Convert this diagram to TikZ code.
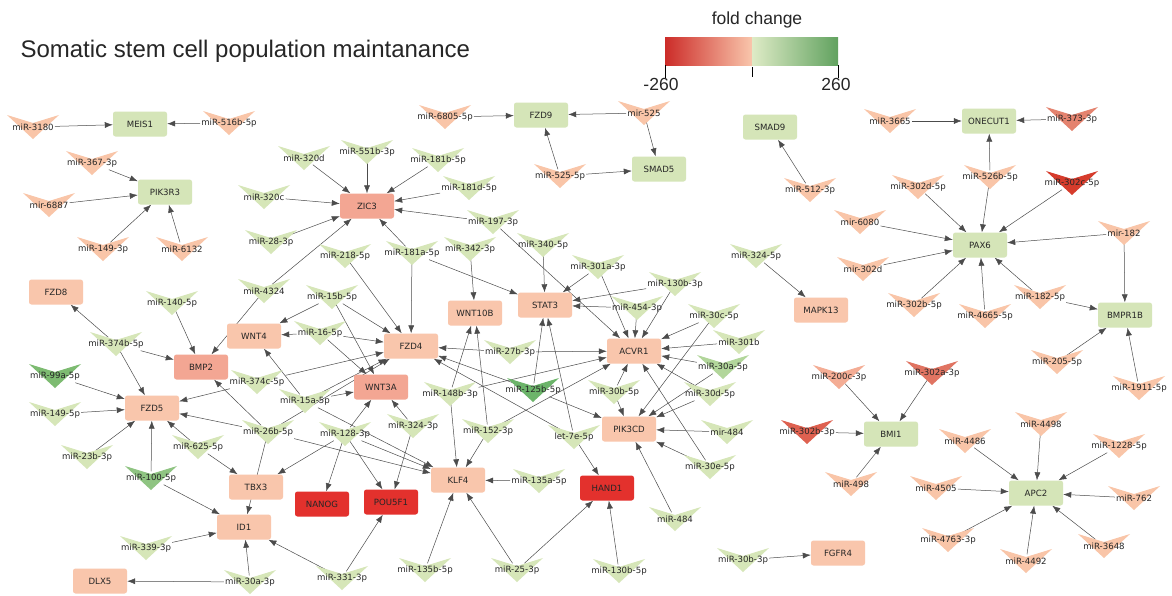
\documentclass[tikz,border=0pt]{standalone}
\usepackage{fontspec}
\setmainfont{DejaVu Sans}
\newfontfamily\libsans{Liberation Sans}
\usetikzlibrary{arrows.meta}
\pgfdeclarelayer{bg}
\pgfsetlayers{bg,main}
\definecolor{cGg}{HTML}{D5E5B8}
\definecolor{cGp}{HTML}{F9C6AC}
\definecolor{cGs}{HTML}{F3A693}
\definecolor{cGr}{HTML}{E3312D}
\definecolor{cS}{HTML}{F9C5A8}
\definecolor{cS2}{HTML}{F4AD95}
\definecolor{cG}{HTML}{D6E6B8}
\definecolor{cMG}{HTML}{B2D69B}
\definecolor{cDG}{HTML}{7DBB71}
\definecolor{cDGb}{HTML}{6CB46A}
\definecolor{cDGc}{HTML}{8FC482}
\definecolor{cR1}{HTML}{D63C2C}
\definecolor{cR2}{HTML}{E07462}
\definecolor{cR3}{HTML}{E4836F}
\definecolor{cR4}{HTML}{DE6150}
\tikzset{
  gene/.style={rounded corners=2.5pt, minimum width=54pt, minimum height=25pt, inner sep=1pt,
    font=\fontsize{8.6}{10}\selectfont, text=black!85},
  mirlab/.style={inner sep=1pt, minimum height=13pt, font=\fontsize{8.6}{10}\selectfont, text=black!85},
  edge/.style={draw=black!70, line width=0.5pt, -{Latex[length=8pt,width=6pt]}},
}
\newcommand\mirna[5]{%
  \fill[#5] ({#2-26},{#3-12}) -- ({#2},{#3-4}) -- ({#2+26},{#3-12}) -- ({#2},{#3+12}) -- cycle;
  \node[mirlab] (#1) at (#2,#3) {#4};}
\begin{document}
\begin{tikzpicture}[x=1pt,y=-1pt]
\useasboundingbox (0,0) rectangle (1172,595);
\begin{pgfonlayer}{bg}
\fill[white] (0,0) rectangle (1172,595);
\end{pgfonlayer}
% title and legend
\node[anchor=base west, font=\libsans\fontsize{24}{28}\selectfont, text=black!85] (title) at (17,57) {Somatic stem cell population maintanance};
\node[font=\libsans\fontsize{17.5}{20}\selectfont, text=black!85] (lgt) at (757,20) {fold change};
\shade[left color=cGr!90!black, right color=cGp] (665,37) rectangle (752,65);
\shade[left color=cG!80, right color=cDGb!90!black] (752,37) rectangle (838,65);
\draw[black, line width=0.7pt] (665,65) -- (665,78) (838,65) -- (838,78) (752,67) -- (752,77);
\node[font=\libsans\fontsize{17.5}{20}\selectfont, text=black!85] (lmin) at (661,84) {-260};
\node[font=\libsans\fontsize{17.5}{20}\selectfont, text=black!85] (lmax) at (836,84) {260};
% genes
\foreach \n/\x/\y/\c in {MEIS1/140/124/cGg, PIK3R3/165/192/cGg, FZD9/541/115/cGg, SMAD5/659/169/cGg,
  SMAD9/770/127/cGg, ONECUT1/989/121/cGg, PAX6/980/245/cGg, BMPR1B/1125/315/cGg, BMI1/891/434/cGg,
  APC2/1036/493/cGg, ZIC3/367/206/cGs, BMP2/201/367/cGs, WNT3A/381/387/cGs,
  FZD8/56/292/cGp, WNT4/254/336/cGp, FZD5/152/408/cGp, WNT10B/475/313/cGp, STAT3/545/305/cGp,
  FZD4/411/346/cGp, ACVR1/634/351/cGp, PIK3CD/629/429/cGp, MAPK13/821/310/cGp, TBX3/256/487/cGp,
  ID1/244/527/cGp, KLF4/458/480/cGp, DLX5/100/581/cGp, FGFR4/838/553/cGp,
  NANOG/322/504/cGr, POU5F1/391/502/cGr, HAND1/607/488/cGr}
  \node[gene, fill=\c] (\n) at (\x,\y) {\n};
% miRNAs
\mirna{m3180}{33}{127}{miR-3180}{cS}
\mirna{m516b}{229}{123}{miR-516b-5p}{cS}
\mirna{m367}{92}{163}{miR-367-3p}{cS}
\mirna{m6887}{49}{205}{mir-6887}{cS}
\mirna{m149x3}{103}{249}{miR-149-3p}{cS}
\mirna{m6132}{182}{249}{miR-6132}{cS}
\mirna{m320d}{304}{158}{miR-320d}{cG}
\mirna{m551b}{367}{152}{miR-551b-3p}{cG}
\mirna{m181b}{438}{160}{miR-181b-5p}{cG}
\mirna{m181d}{469}{188}{miR-181d-5p}{cG}
\mirna{m320c}{264}{197}{miR-320c}{cG}
\mirna{m197}{493}{222}{miR-197-3p}{cG}
\mirna{m28}{271}{242}{miR-28-3p}{cG}
\mirna{m218}{345}{256}{miR-218-5p}{cG}
\mirna{m181a}{412}{253}{miR-181a-5p}{cG}
\mirna{m342}{470}{249}{miR-342-3p}{cG}
\mirna{m340}{543}{245}{miR-340-5p}{cG}
\mirna{m6805}{445}{117}{miR-6805-5p}{cS}
\mirna{mir525}{644}{113}{mir-525}{cS}
\mirna{m525}{560}{176}{miR-525-5p}{cS}
\mirna{m512}{810}{190}{miR-512-3p}{cS}
\mirna{m3665}{890}{121}{miR-3665}{cS}
\mirna{m373}{1072}{119}{miR-373-3p}{cR3}
\mirna{m526b}{990}{177}{miR-526b-5p}{cS}
\mirna{m302d5}{918}{187}{miR-302d-5p}{cS}
\mirna{m302c}{1072}{183}{miR-302c-5p}{cR1}
\mirna{m6080}{860}{222}{mir-6080}{cS}
\mirna{m302d}{863}{269}{mir-302d}{cS}
\mirna{mir182}{1124}{233}{mir-182}{cS}
\mirna{m302b5}{914}{305}{miR-302b-5p}{cS}
\mirna{m4665}{985}{316}{miR-4665-5p}{cS}
\mirna{m182}{1040}{297}{miR-182-5p}{cS}
\mirna{m205}{1057}{362}{miR-205-5p}{cS}
\mirna{m1911}{1139}{388}{miR-1911-5p}{cS}
\mirna{m324x5}{756}{256}{miR-324-5p}{cG}
\mirna{m301a}{598}{267}{miR-301a-3p}{cG}
\mirna{m130b3}{675}{284}{miR-130b-3p}{cG}
\mirna{m454}{637}{308}{miR-454-3p}{cG}
\mirna{m30c}{714}{316}{miR-30c-5p}{cG}
\mirna{m301b}{739}{342}{miR-301b}{cG}
\mirna{m30a5}{723}{367}{miR-30a-5p}{cMG}
\mirna{m30b5}{614}{392}{miR-30b-5p}{cG}
\mirna{m30d}{710}{394}{miR-30d-5p}{cG}
\mirna{mir484}{727}{432}{mir-484}{cG}
\mirna{m30e}{710}{467}{miR-30e-5p}{cG}
\mirna{m484}{675}{519}{miR-484}{cG}
\mirna{m130b5}{619}{571}{miR-130b-5p}{cG}
\mirna{m200c}{839}{377}{miR-200c-3p}{cS2}
\mirna{m302a3}{932}{373}{miR-302a-3p}{cR2}
\mirna{m302b3}{807}{432}{miR-302b-3p}{cR4}
\mirna{m498}{851}{484}{miR-498}{cS}
\mirna{m4486}{965}{441}{miR-4486}{cS}
\mirna{m4498}{1041}{424}{miR-4498}{cS}
\mirna{m1228}{1119}{446}{miR-1228-5p}{cS}
\mirna{m4505}{936}{488}{miR-4505}{cS}
\mirna{m762}{1134}{498}{miR-762}{cS}
\mirna{m4763}{948}{540}{miR-4763-3p}{cS}
\mirna{m3648}{1104}{546}{miR-3648}{cS}
\mirna{m4492}{1026}{561}{miR-4492}{cS}
\mirna{m30b3}{743}{560}{miR-30b-3p}{cG}
\mirna{m140}{172}{303}{miR-140-5p}{cG}
\mirna{m4324}{264}{291}{miR-4324}{cG}
\mirna{m15b}{332}{297}{miR-15b-5p}{cG}
\mirna{m16}{320}{333}{miR-16-5p}{cG}
\mirna{m374b}{116}{344}{miR-374b-5p}{cG}
\mirna{m374c}{257}{382}{miR-374c-5p}{cG}
\mirna{m99a}{55}{376}{miR-99a-5p}{cDG}
\mirna{m149x5}{55}{414}{miR-149-5p}{cG}
\mirna{m15a}{305}{401}{miR-15a-5p}{cG}
\mirna{m26b}{268}{432}{miR-26b-5p}{cG}
\mirna{m128}{345}{434}{miR-128-3p}{cG}
\mirna{m324x3}{413}{426}{miR-324-3p}{cG}
\mirna{m148b}{450}{394}{miR-148b-3p}{cG}
\mirna{m125b}{533}{390}{miR-125b-5p}{cDGb}
\mirna{m27b}{510}{352}{miR-27b-3p}{cG}
\mirna{m152}{488}{431}{miR-152-3p}{cG}
\mirna{let7e}{574}{437}{let-7e-5p}{cG}
\mirna{m625}{198}{447}{miR-625-5p}{cG}
\mirna{m23b}{87}{457}{miR-23b-3p}{cG}
\mirna{m100}{151}{478}{miR-100-5p}{cDGc}
\mirna{m135a}{539}{481}{miR-135a-5p}{cG}
\mirna{m339}{146}{548}{miR-339-3p}{cG}
\mirna{m30a3}{250}{582}{miR-30a-3p}{cG}
\mirna{m331}{342}{578}{miR-331-3p}{cG}
\mirna{m135b}{425}{570}{miR-135b-5p}{cG}
\mirna{m25}{517}{570}{miR-25-3p}{cG}
% edges
\begin{pgfonlayer}{bg}
\foreach \a/\b in {m3180/MEIS1, m516b/MEIS1, m367/PIK3R3, m6887/PIK3R3, m149x3/PIK3R3, m6132/PIK3R3,
  m320d/ZIC3, m551b/ZIC3, m181b/ZIC3, m181d/ZIC3, m197/ZIC3, m320c/ZIC3, m28/ZIC3, m4324/ZIC3, m181a/ZIC3,
  m6805/FZD9, mir525/FZD9, m525/FZD9, mir525/SMAD5, m525/SMAD5, m512/SMAD9,
  m3665/ONECUT1, m373/ONECUT1, m526b/ONECUT1,
  m526b/PAX6, m302d5/PAX6, m302c/PAX6, m6080/PAX6, m302d/PAX6, mir182/PAX6, m302b5/PAX6, m4665/PAX6, m182/PAX6,
  mir182/BMPR1B, m182/BMPR1B, m205/BMPR1B, m1911/BMPR1B, m324x5/MAPK13,
  m200c/BMI1, m302a3/BMI1, m302b3/BMI1, m498/BMI1,
  m4486/APC2, m4498/APC2, m1228/APC2, m4505/APC2, m762/APC2, m4763/APC2, m3648/APC2, m4492/APC2,
  m30b3/FGFR4,
  m181a/STAT3, m340/STAT3, m301a/STAT3, m130b3/STAT3, m454/STAT3, m125b/STAT3, let7e/STAT3,
  m342/WNT10B, m148b/WNT10B, m152/WNT10B,
  m197/ACVR1, m301a/ACVR1, m130b3/ACVR1, m454/ACVR1, m30c/ACVR1, m301b/ACVR1, m30a5/ACVR1, m30d/ACVR1,
  m30e/ACVR1, m30b5/ACVR1, m27b/ACVR1, m148b/ACVR1, m152/ACVR1,
  m30b5/PIK3CD, m125b/PIK3CD, m30c/PIK3CD, m30a5/PIK3CD, m30d/PIK3CD, mir484/PIK3CD, m30e/PIK3CD, m484/PIK3CD,
  let7e/HAND1, m130b5/HAND1, m25/HAND1,
  m26b/KLF4, m128/KLF4, m15a/KLF4, m148b/KLF4, m152/KLF4, m135a/KLF4, m135b/KLF4, m25/KLF4,
  m218/FZD4, m181a/FZD4, m15b/FZD4, m16/FZD4, m374c/FZD4, m27b/FZD4, m125b/FZD4, let7e/FZD4,
  m26b/FZD4, m15a/FZD4,
  m15b/WNT3A, m16/WNT3A, m15a/WNT3A, m128/WNT3A, m324x3/WNT3A,
  m15b/WNT4, m16/WNT4, m15a/WNT4,
  m374b/BMP2, m140/BMP2, m4324/BMP2, m26b/BMP2, m374b/FZD8,
  m374b/FZD5, m99a/FZD5, m149x5/FZD5, m23b/FZD5, m100/FZD5, m625/FZD5, m374c/FZD5, m26b/FZD5,
  m625/TBX3, m128/TBX3, m26b/ID1, m100/ID1, m339/ID1, m30a3/ID1, m331/ID1, m30a3/DLX5,
  m128/NANOG, m128/POU5F1, m324x3/POU5F1, m331/POU5F1}
  \draw[edge] (\a) -- (\b);
\end{pgfonlayer}
\end{tikzpicture}
\end{document}
